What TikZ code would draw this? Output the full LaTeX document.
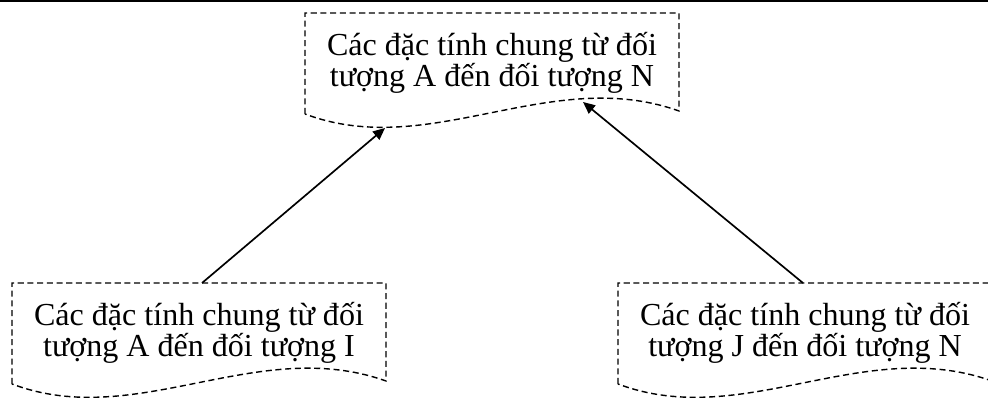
\documentclass[tikz,border=0pt]{standalone}
\usepackage{fontspec}
\setmainfont{Liberation Serif}
\usetikzlibrary{arrows.meta}
\begin{document}
\begin{tikzpicture}[x=0.25mm, y=-0.25mm,
  khung/.style={line width=1pt, dash pattern=on 4.3pt off 2.6pt},
  muiten/.style={line width=1.2pt, -{Triangle[length=8.5pt, width=7.5pt]}},
  every node/.append style={font=\fontsize{22.8}{21.3}\selectfont, align=center, inner sep=0pt}]
  \useasboundingbox (0,0) rectangle (988,398);
  % duong ke tren
  \draw[line width=1.1pt] (0,0.75) -- (988,0.75);
  % hop tren
  \begin{scope}[shift={(305,13)}]
    \draw[khung] (0,101) -- (0,0) -- (374,0) -- (374,98)
      .. controls (245,52) and (125,148) .. (0,101);
    \node (chung) at (187,50) {Các đặc tính chung từ đối\\tượng A đến đối tượng N};
    \coordinate (chung-trai) at (80,115);
    \coordinate (chung-phai) at (278,89);
  \end{scope}
  % hop duoi trai
  \begin{scope}[shift={(12,283)}]
    \draw[khung] (0,101) -- (0,0) -- (374,0) -- (374,98)
      .. controls (245,52) and (125,148) .. (0,101);
    \node (nhomAI) at (187,50) {Các đặc tính chung từ đối\\tượng A đến đối tượng I};
    \coordinate (nhomAI-dinh) at (190,0);
  \end{scope}
  % hop duoi phai
  \begin{scope}[shift={(618,283)}]
    \draw[khung] (0,101) -- (0,0) -- (374,0) -- (374,98)
      .. controls (245,52) and (125,148) .. (0,101);
    \node (nhomJN) at (187,50) {Các đặc tính chung từ đối\\tượng J đến đối tượng N};
    \coordinate (nhomJN-dinh) at (185,0);
  \end{scope}
  % mui ten
  \draw[muiten] (nhomAI-dinh) -- (chung-trai);
  \draw[muiten] (nhomJN-dinh) -- (chung-phai);
\end{tikzpicture}
\end{document}
